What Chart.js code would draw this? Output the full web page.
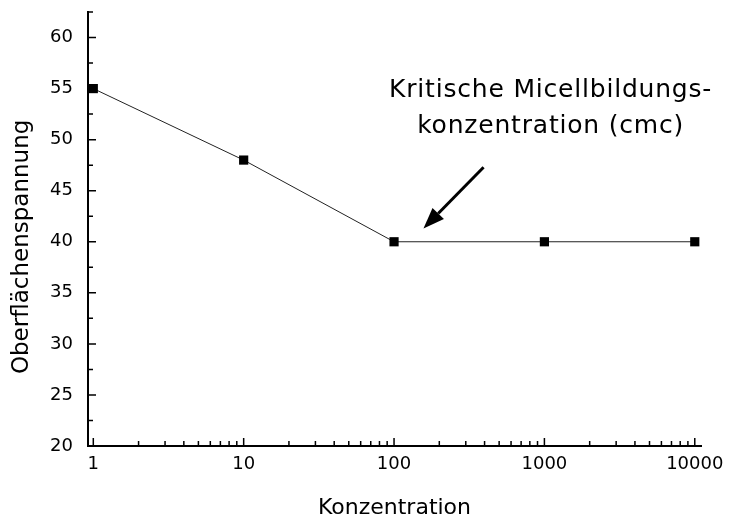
<!DOCTYPE html>
<html>
<head>
<meta charset="utf-8">
<script src="https://cdn.jsdelivr.net/npm/chart.js@4"></script>
<style>
  html, body { margin: 0; padding: 0; background: #fff; }
</style>
</head>
<body>
<canvas id="c" width="730" height="521"></canvas>
<script>
// data
const concentrations = [1, 10, 100, 1000, 10000];
const tension = [55, 48, 40, 40, 40];
const xTicks = [1, 10, 100, 1000, 10000];
const yTicks = [20, 25, 30, 35, 40, 45, 50, 55, 60];
const xTitle = "Konzentration";
const yTitle = "Oberflächenspannung";
const noteLines = ["Kritische Micellbildungs-", "konzentration (cmc)"];

const FONT = "'DejaVu Sans', sans-serif";

// inward tick marks, arrow + note, rotated y title
const decorations = {
  id: "decorations",
  afterDraw(chart) {
    const { ctx, chartArea: a, scales } = chart;
    const x = scales.x, y = scales.y;
    ctx.save();
    ctx.strokeStyle = "#000";
    ctx.lineWidth = 1.5;
    ctx.beginPath();
    yTicks.forEach((v) => {
      let py = y.getPixelForValue(v);
      ctx.moveTo(a.left, py);
      ctx.lineTo(a.left + 8, py);
      if (v + 2.5 <= y.max) {
        py = y.getPixelForValue(v + 2.5);
        ctx.moveTo(a.left, py);
        ctx.lineTo(a.left + 5, py);
      }
    });
    xTicks.forEach((v, i) => {
      let px = x.getPixelForValue(v);
      ctx.moveTo(px, a.bottom);
      ctx.lineTo(px, a.bottom - 8);
      if (i < xTicks.length - 1) {
        for (let k = 2; k <= 9; k++) {
          px = x.getPixelForValue(v * k);
          ctx.moveTo(px, a.bottom);
          ctx.lineTo(px, a.bottom - 5);
        }
      }
    });
    ctx.stroke();

    // y title
    ctx.fillStyle = "#000";
    ctx.font = "23px " + FONT;
    ctx.textAlign = "center";
    ctx.textBaseline = "middle";
    ctx.save();
    ctx.translate(22, y.getPixelForValue(39.5));
    ctx.rotate(-Math.PI / 2);
    ctx.fillText(yTitle, 0, 0);
    ctx.restore();

    // note text
    ctx.font = "25px " + FONT;
    ctx.letterSpacing = "0.8px";
    const nx = x.getPixelForValue(1100);
    ctx.fillText(noteLines[0], nx, y.getPixelForValue(54.8));
    ctx.fillText(noteLines[1], nx, y.getPixelForValue(51.3));
    ctx.letterSpacing = "0px";

    // arrow
    const x0 = x.getPixelForValue(394), y0 = y.getPixelForValue(47.3);
    const x1 = x.getPixelForValue(157), y1 = y.getPixelForValue(41.3);
    const ang = Math.atan2(y1 - y0, x1 - x0);
    const hl = 21, hw = 8;
    const bx = x1 - hl * Math.cos(ang), by = y1 - hl * Math.sin(ang);
    ctx.lineWidth = 3;
    ctx.beginPath();
    ctx.moveTo(x0, y0);
    ctx.lineTo(bx, by);
    ctx.stroke();
    ctx.beginPath();
    ctx.moveTo(x1, y1);
    ctx.lineTo(bx + hw * Math.sin(ang), by - hw * Math.cos(ang));
    ctx.lineTo(bx - hw * Math.sin(ang), by + hw * Math.cos(ang));
    ctx.closePath();
    ctx.fillStyle = "#000";
    ctx.fill();
    ctx.restore();
  },
};

new Chart(document.getElementById("c"), {
  type: "line",
  data: {
    datasets: [
      {
        data: concentrations.map((c, i) => ({ x: c, y: tension[i] })),
        borderColor: "#222",
        borderWidth: 1,
        pointStyle: "rect",
        pointRadius: 6.5,
        pointBackgroundColor: "#000",
        pointBorderColor: "#000",
        pointBorderWidth: 0,
        tension: 0,
      },
    ],
  },
  options: {
    responsive: false,
    animation: false,
    layout: { padding: { left: 0, top: 12, right: 29, bottom: 0 } },
    plugins: { legend: { display: false }, tooltip: { enabled: false } },
    scales: {
      x: {
        type: "logarithmic",
        min: 0.922,
        max: 11000,
        afterBuildTicks: (s) => { s.ticks = xTicks.map((v) => ({ value: v })); },
        afterFit: (s) => { s.height = 75; s.paddingLeft = 0; s.paddingRight = 0; },
        grid: { display: false, drawTicks: false },
        border: { display: true, color: "#000", width: 2 },
        ticks: {
          color: "#000",
          font: { family: FONT, size: 18 },
          padding: 8,
          maxRotation: 0,
          callback: (v) => String(v),
        },
        title: {
          display: true,
          text: xTitle,
          color: "#000",
          font: { family: FONT, size: 22 },
          padding: { top: 0, bottom: 0 },
        },
      },
      y: {
        min: 20,
        max: 62.5,
        afterBuildTicks: (s) => { s.ticks = yTicks.map((v) => ({ value: v })); },
        afterFit: (s) => { s.width = 88; s.paddingTop = 0; s.paddingBottom = 0; },
        grid: { display: false, drawTicks: false },
        border: { display: true, color: "#000", width: 2 },
        ticks: {
          color: "#000",
          font: { family: FONT, size: 18 },
          padding: 15,
        },
      },
    },
  },
  plugins: [decorations],
});
</script>
</body>
</html>
